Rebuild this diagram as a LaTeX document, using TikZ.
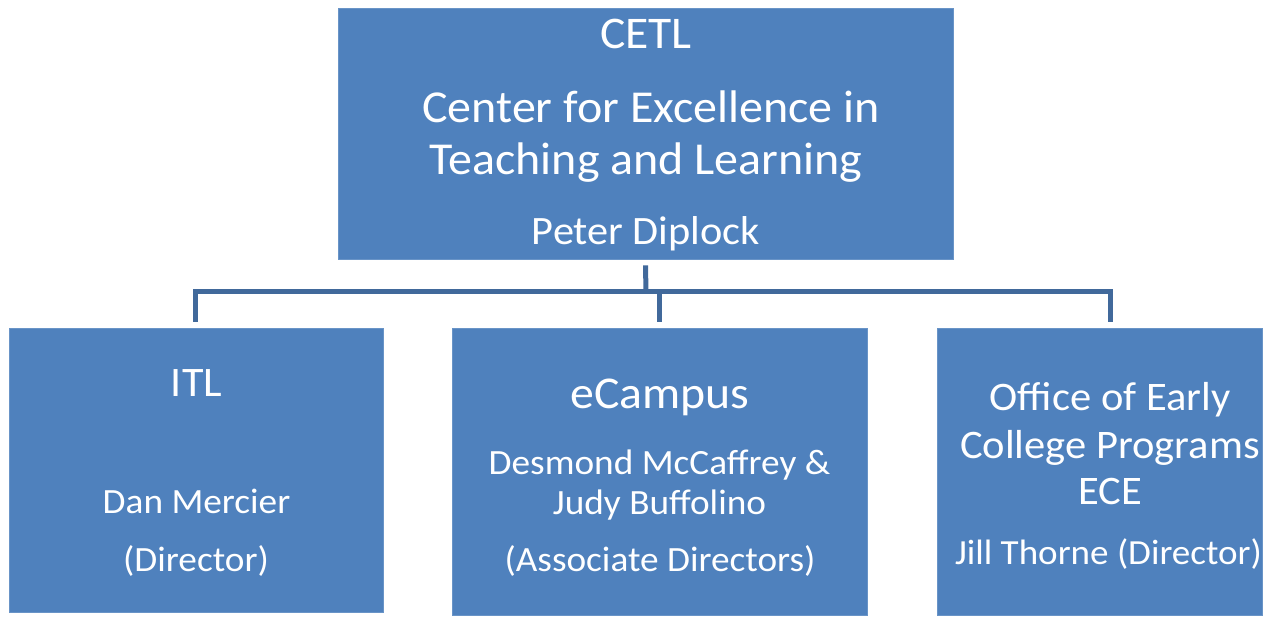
\documentclass[tikz,border=0pt]{standalone}
\usepackage{fontspec}
\setmainfont{Carlito}[FakeStretch=1.05]
\usetikzlibrary{positioning}

\definecolor{boxblue}{HTML}{4F81BD}
\definecolor{lineblue}{HTML}{41699B}

\tikzset{
  unit/.style={rectangle, fill=boxblue, draw=boxblue!85!white, line width=0.8pt, inner sep=0pt},
  txt/.style={text=white, anchor=base, inner sep=0pt},
  conn/.style={draw=lineblue, line width=5pt},
}
\newcommand{\fs}[1]{\fontsize{#1}{#1}\selectfont}

\begin{document}
\begin{tikzpicture}[x=1pt, y=-1pt]
  \useasboundingbox (0,0) rectangle (1270,617);
  % boxes
  \node[unit, minimum width=615pt, minimum height=251pt] (cetl) at (645.5,133.5) {};
  \node[unit, minimum width=374pt, minimum height=284pt] (itl) at (196,470) {};
  \node[unit, minimum width=415pt, minimum height=287pt] (ecmp) at (659.5,471.5) {};
  \node[unit, minimum width=325pt, minimum height=287pt] (ofc) at (1099.5,471.5) {};

  % top box text
  \node[txt, font=\fs{45.3}] (cetlname) at (646,49) {CETL};
  \node[txt, font=\fs{45.7}] (cetlfull1) at (651,122.5) {Center for Excellence in};
  \node[txt, font=\fs{45.7}] (cetlfull2) at (646,175) {Teaching and Learning};
  \node[txt, font=\fs{40.3}] (cetlhead) at (646,245) {Peter Diplock};

  % ITL text
  \node[txt, font=\fs{42}] (itlname) at (196.5,396.5) {ITL};
  \node[txt, font=\fs{35.5}] (itlhead) at (196.5,514) {Dan Mercier};
  \node[txt, font=\fs{35.5}] (itlrole) at (196,571) {(Director)};

  % eCampus text
  \node[txt, font=\fs{45.5}] (ecmpname) at (660,409) {eCampus};
  \node[txt, font=\fs{35.5}] (ecmphead1) at (659.5,474.5) {Desmond McCaffrey \&};
  \node[txt, font=\fs{35.5}] (ecmphead2) at (659.5,514.5) {Judy Buffolino};
  \node[txt, font=\fs{35.5}] (ecmprole) at (660,571) {(Associate Directors)};

  % office text
  \node[txt, font=\fs{40.5}] (ofcname1) at (1110,411) {Office of Early};
  \node[txt, font=\fs{40.5}] (ofcname2) at (1110,459) {College Programs};
  \node[txt, font=\fs{40.5}] (ofcname3) at (1110,504) {ECE};
  \node[txt, font=\fs{35.3}] (ofchead) at (1108.5,564.5) {Jill Thorne (Director)};

  % connectors
  \coordinate (bus) at (646,292);
  \coordinate (ofctop) at (1110,322);
  \draw[conn] ([yshift=-6pt]cetl.south) -- (bus);
  \draw[conn] ([yshift=6pt, xshift=-1pt]itl.north) |- (bus) -| (ofctop);
  \draw[conn] (bus -| ecmp.north) -- ([yshift=6pt]ecmp.north);
\end{tikzpicture}
\end{document}
